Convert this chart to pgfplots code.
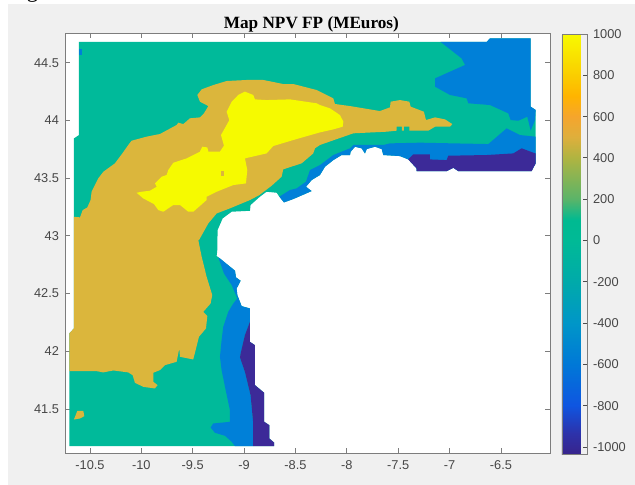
\documentclass[border=0pt]{standalone}
\usepackage{fontspec}
\setmainfont{Liberation Sans}
\newfontfamily\timesf{Liberation Serif}
\usepackage{pgfplots}
\pgfplotsset{compat=1.18}
\definecolor{bgp}{RGB}{240,240,240}
\definecolor{axg}{RGB}{125,125,125}
\definecolor{txg}{RGB}{70,70,70}
\definecolor{cteal}{RGB}{0,186,154}
\definecolor{cgold}{RGB}{219,182,60}
\definecolor{cyel}{RGB}{246,250,0}
\definecolor{cblue}{RGB}{0,128,216}
\definecolor{cnavy}{RGB}{60,42,152}
\begin{document}
\begin{tikzpicture}
\useasboundingbox (0,0) rectangle (476.25pt,363.75pt);
\fill[bgp] (6pt,0pt) rectangle (476.25pt,360.5pt);
\begin{scope}
\clip (0,0) rectangle (476.25pt,363.75pt);
\node[anchor=base west,inner sep=0pt,font=\timesf\fontsize{17}{17}\selectfont,text=black] at (20pt,365.6pt) {g};
\end{scope}
\begin{axis}[
  at={(48.75pt,24pt)},anchor=south west,
  scale only axis,width=363.75pt,height=315pt,
  xmin=-10.743,xmax=-6.023,ymin=41.119,ymax=44.757,
  axis background/.style={fill=white},
  axis line style={axg,line width=0.7pt},
  tick align=inside,
  major tick length=3.5pt,
  every tick/.style={axg,line width=0.6pt},
  xtick={-10.5,-10,-9.5,-9,-8.5,-8,-7.5,-7,-6.5},
  xticklabels={-10.5,-10,-9.5,-9,-8.5,-8,-7.5,-7,-6.5},
  ytick={41.5,42,42.5,43,43.5,44,44.5},
  yticklabels={41.5,42,42.5,43,43.5,44,44.5},
  tick label style={font=\fontsize{9.6}{10}\selectfont,text=txg},
  xticklabel style={yshift=-2.5pt},
  yticklabel style={xshift=-1pt},
  title={\timesf\bfseries Map NPV FP (MEuros)},
  title style={font=\fontsize{12.9}{13}\selectfont,at={(0.508,1)},anchor=south,yshift=-9pt,text=black},
  point meta min=-1034,point meta max=1000,
  colormap={mapnpv}{
    rgb255(0pt)=(56,36,140);
    rgb255(100pt)=(45,50,170);
    rgb255(234pt)=(15,85,225);
    rgb255(434pt)=(0,120,215);
    rgb255(634pt)=(0,150,200);
    rgb255(834pt)=(0,170,170);
    rgb255(1034pt)=(0,186,150);
    rgb255(1134pt)=(0,186,145);
    rgb255(1234pt)=(90,180,105);
    rgb255(1434pt)=(175,180,65);
    rgb255(1534pt)=(222,175,60);
    rgb255(1634pt)=(245,165,45);
    rgb255(1734pt)=(255,180,0);
    rgb255(1834pt)=(250,205,0);
    rgb255(2034pt)=(248,250,0)
  },
  colorbar,
  colorbar style={
    at={(1.0247,0.9976)},anchor=north west,
    width=18.75pt,height=315pt,
    ymin=-1034,ymax=1000,
    ytick={-1000,-800,-600,-400,-200,0,200,400,600,800,1000},
    yticklabels={-1000,-800,-600,-400,-200,0,200,400,600,800,1000},
    yticklabel pos=right,
    ytick pos=right,
    tick align=inside,
    major tick length=3pt,
    axis line style={axg,line width=0.7pt},
    every tick/.style={black!70,line width=0.6pt},
    tick label style={font=\fontsize{9.6}{10}\selectfont,text=txg},
    yticklabel style={xshift=1pt},
  },
]
% teal domain
\addplot[fill=cteal,draw=none,forget plot] coordinates {
(-10.607,44.679)(-6.640,44.679)(-6.607,44.711)(-6.211,44.711)(-6.211,44.119)(-6.163,44.090)(-6.163,43.628)(-6.202,43.561)(-6.915,43.561)(-6.964,43.590)(-7.029,43.561)(-7.321,43.561)(-7.321,43.584)(-7.402,43.662)(-7.483,43.691)(-7.645,43.700)(-7.661,43.752)(-7.726,43.772)(-7.807,43.752)(-7.824,43.714)(-7.856,43.758)(-7.921,43.772)(-7.963,43.729)(-7.970,43.700)(-8.051,43.700)(-8.132,43.656)(-8.213,43.599)(-8.262,43.527)(-8.343,43.483)(-8.398,43.425)(-8.343,43.388)(-8.521,43.319)(-8.612,43.290)(-8.657,43.339)(-8.683,43.373)(-8.781,43.382)(-8.846,43.339)(-8.937,43.267)(-8.943,43.217)(-9.121,43.209)(-9.209,43.151)(-9.258,43.050)(-9.261,42.877)(-9.267,42.825)(-9.235,42.804)(-9.089,42.698)(-9.079,42.640)(-9.034,42.611)(-9.073,42.544)(-9.066,42.487)(-9.024,42.391)(-8.943,42.371)(-8.943,42.082)(-8.894,42.053)(-8.894,41.707)(-8.804,41.640)(-8.804,41.389)(-8.755,41.360)(-8.755,41.245)(-8.709,41.210)(-8.709,41.178)(-10.701,41.178)(-10.701,42.155)(-10.656,42.198)(-10.656,43.844)(-10.607,43.873)
} -- cycle;
% gold
\addplot[fill=cgold,draw=none,forget plot] coordinates {
(-10.656,43.165)(-10.597,43.160)(-10.571,43.223)(-10.526,43.246)(-10.494,43.310)(-10.484,43.382)(-10.419,43.498)(-10.370,43.555)(-10.257,43.628)(-10.185,43.714)(-10.127,43.787)(-10.095,43.824)(-9.949,43.859)(-9.819,43.882)(-9.657,43.960)(-9.640,43.980)(-9.592,43.968)(-9.527,44.018)(-9.430,44.026)(-9.391,44.061)(-9.348,44.124)(-9.430,44.162)(-9.455,44.220)(-9.413,44.269)(-9.300,44.306)(-9.170,44.341)(-8.975,44.350)(-8.813,44.350)(-8.619,44.315)(-8.521,44.315)(-8.294,44.263)(-8.262,44.249)(-8.132,44.191)(-8.116,44.142)(-7.970,44.124)(-7.678,44.081)(-7.580,44.113)(-7.574,44.162)(-7.483,44.176)(-7.392,44.162)(-7.379,44.119)(-7.250,44.075)(-7.230,44.003)(-7.142,44.026)(-7.045,44.009)(-6.974,43.968)(-6.996,43.945)(-7.142,43.945)(-7.207,43.911)(-7.392,43.911)(-7.392,43.945)(-7.444,43.945)(-7.444,43.911)(-7.464,43.911)(-7.464,43.945)(-7.515,43.945)(-7.515,43.911)(-7.613,43.902)(-7.937,43.888)(-8.262,43.787)(-8.310,43.758)(-8.327,43.714)(-8.440,43.628)(-8.619,43.576)(-8.635,43.512)(-8.732,43.434)(-8.852,43.353)(-8.943,43.310)(-9.138,43.238)(-9.267,43.194)(-9.348,43.108)(-9.439,42.963)(-9.446,42.963)(-9.413,42.819)(-9.365,42.646)(-9.310,42.487)(-9.326,42.414)(-9.397,42.342)(-9.358,42.305)(-9.371,42.198)(-9.439,42.126)(-9.495,41.929)(-9.624,41.952)(-9.631,42.024)(-9.657,41.909)(-9.770,41.880)(-9.819,41.837)(-9.884,41.814)(-9.884,41.736)(-9.842,41.707)(-9.868,41.678)(-9.981,41.692)(-10.062,41.727)(-10.085,41.793)(-10.127,41.817)(-10.273,41.834)(-10.370,41.817)(-10.435,41.828)(-10.701,41.828)(-10.701,42.155)(-10.656,42.198)
} -- cycle;
\addplot[fill=cgold,draw=none,forget plot] coordinates {
(-10.656,41.409)(-10.623,41.484)(-10.565,41.484)(-10.555,41.438)(-10.597,41.418)
} -- cycle;
% yellow
\addplot[fill=cyel,draw=none,forget plot] coordinates {
(-10.046,43.373)(-9.997,43.382)(-9.916,43.391)(-9.851,43.425)(-9.867,43.454)(-9.803,43.512)(-9.754,43.527)(-9.738,43.570)(-9.689,43.633)(-9.559,43.671)(-9.430,43.729)(-9.407,43.772)(-9.358,43.766)(-9.348,43.729)(-9.235,43.729)(-9.196,43.781)(-9.225,43.873)(-9.170,43.960)(-9.144,44.003)(-9.170,44.075)(-9.121,44.162)(-9.057,44.220)(-8.992,44.249)(-8.911,44.220)(-8.894,44.182)(-8.781,44.176)(-8.554,44.182)(-8.294,44.148)(-8.262,44.133)(-8.164,44.104)(-8.067,44.046)(-8.034,43.989)(-8.041,43.945)(-8.132,43.922)(-8.262,43.896)(-8.521,43.830)(-8.716,43.778)(-8.781,43.714)(-8.992,43.671)(-8.969,43.570)(-8.982,43.454)(-9.105,43.440)(-9.267,43.382)(-9.365,43.339)(-9.365,43.310)(-9.494,43.209)(-9.543,43.209)(-9.624,43.267)(-9.689,43.267)(-9.786,43.209)(-9.835,43.223)(-9.877,43.275)(-9.981,43.324)
} -- cycle;
\addplot[fill=cgold,draw=none,forget plot] coordinates {
(-9.228,43.517)(-9.193,43.517)(-9.193,43.563)(-9.228,43.563)
} -- cycle;
% blue NE
\addplot[fill=cblue,draw=none,forget plot] coordinates {
(-7.087,44.679)(-6.640,44.679)(-6.607,44.711)(-6.211,44.711)(-6.211,44.119)(-6.163,44.090)(-6.169,44.003)(-6.211,43.911)(-6.244,44.032)(-6.331,43.997)(-6.406,44.003)(-6.429,44.061)(-6.607,44.133)(-6.818,44.148)(-6.834,44.191)(-6.996,44.220)(-7.142,44.292)(-7.142,44.364)(-6.850,44.480)(-6.883,44.537)
} -- cycle;
% blue along the northern coast
\addplot[fill=cblue,draw=none,forget plot] coordinates {
(-8.657,43.339)(-8.554,43.397)(-8.489,43.411)(-8.398,43.469)(-8.359,43.570)(-8.262,43.613)(-8.132,43.700)(-7.970,43.758)(-7.937,43.787)(-7.645,43.787)(-7.580,43.801)(-7.288,43.807)(-6.964,43.801)(-6.623,43.795)(-6.445,43.931)(-6.315,43.873)(-6.163,43.859)(-6.163,43.628)(-6.202,43.561)(-6.915,43.561)(-6.964,43.590)(-7.029,43.561)(-7.321,43.561)(-7.321,43.584)(-7.402,43.662)(-7.483,43.691)(-7.645,43.700)(-7.661,43.752)(-7.726,43.772)(-7.807,43.752)(-7.824,43.714)(-7.856,43.758)(-7.921,43.772)(-7.963,43.729)(-7.970,43.700)(-8.051,43.700)(-8.132,43.656)(-8.213,43.599)(-8.262,43.527)(-8.343,43.483)(-8.398,43.425)(-8.343,43.388)(-8.521,43.319)(-8.612,43.290)
} -- cycle;
% blue along the western coast
\addplot[fill=cblue,draw=none,forget plot] coordinates {
(-9.251,42.813)(-9.235,42.804)(-9.089,42.698)(-9.079,42.640)(-9.034,42.611)(-9.073,42.544)(-9.066,42.487)(-9.024,42.391)(-8.943,42.371)(-8.943,42.256)(-8.992,42.140)(-9.034,41.981)(-9.040,41.947)(-8.992,41.822)(-8.937,41.620)(-8.911,41.375)(-8.911,41.178)(-9.089,41.178)(-9.121,41.216)(-9.186,41.268)(-9.284,41.294)(-9.326,41.340)(-9.300,41.375)(-9.138,41.389)(-9.138,41.490)(-9.186,41.692)(-9.219,41.837)(-9.235,41.952)(-9.219,42.097)(-9.203,42.212)(-9.154,42.342)(-9.105,42.414)(-9.066,42.458)(-9.121,42.573)(-9.196,42.674)
} -- cycle;
\addplot[fill=cblue,draw=none,forget plot] coordinates {
(-10.607,44.615)(-10.581,44.615)(-10.581,44.566)(-10.607,44.566)
} -- cycle;
% navy
\addplot[fill=cnavy,draw=none,forget plot] coordinates {
(-8.943,42.256)(-8.992,42.140)(-9.034,41.981)(-9.040,41.947)(-8.992,41.822)(-8.937,41.620)(-8.911,41.375)(-8.911,41.178)(-8.709,41.178)(-8.709,41.210)(-8.755,41.245)(-8.755,41.360)(-8.804,41.389)(-8.804,41.640)(-8.894,41.707)(-8.894,42.053)(-8.943,42.082)
} -- cycle;
\addplot[fill=cnavy,draw=none,forget plot] coordinates {
(-7.402,43.662)(-7.353,43.706)(-7.191,43.706)(-7.191,43.662)(-7.029,43.656)(-7.013,43.694)(-6.640,43.700)(-6.380,43.714)(-6.299,43.758)(-6.185,43.720)(-6.163,43.714)(-6.163,43.628)(-6.202,43.561)(-6.915,43.561)(-6.964,43.590)(-7.029,43.561)(-7.321,43.561)(-7.321,43.584)
} -- cycle;
\end{axis}
\end{tikzpicture}
\end{document}
